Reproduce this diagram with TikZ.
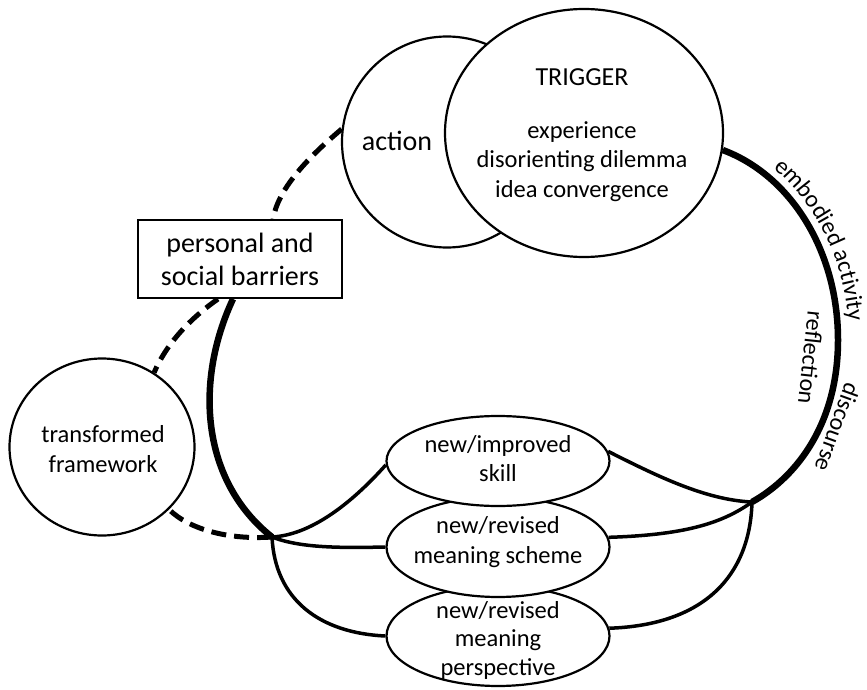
\documentclass[tikz,border=0pt]{standalone}
\usepackage{fontspec}
\setmainfont{Carlito}
\usetikzlibrary{shapes.geometric,decorations.text,backgrounds}
\begin{document}
\begin{tikzpicture}[x=1pt,y=-1pt,
  shapeline/.style={draw=black, line width=2.2pt, fill=white, inner sep=0pt},
  txt/.style={align=center, anchor=base, inner sep=0pt, font=\fontsize{24.5}{30}\selectfont},
  thickline/.style={line width=6.5pt},
  thinline/.style={line width=3.5pt},
  dashline/.style={line width=5pt, dash pattern=on 15pt off 8pt},
]
\fontsize{24}{28}\selectfont
\useasboundingbox (0,0) rectangle (867,690);

% shapes
\node[shapeline, ellipse, minimum width=210pt, minimum height=211pt] (act) at (447,142) {};
\node[shapeline, ellipse, minimum width=278pt, minimum height=248pt] (trig) at (584,133) {};
\node[shapeline, rectangle, line width=2pt, minimum width=204pt, minimum height=78pt] (bar) at (240,259) {};
\node[shapeline, ellipse, minimum width=185pt, minimum height=177pt] (tf) at (102,447) {};
\node[shapeline, ellipse, minimum width=223pt, minimum height=100pt] (persp) at (498,636) {};
\node[shapeline, ellipse, minimum width=223pt, minimum height=100pt] (scheme) at (498,547) {};
\node[shapeline, ellipse, minimum width=223pt, minimum height=90pt] (skill) at (498,461) {};

% texts (anchor=base is the baseline of the last line)
\node[txt, font=\fontsize{28}{30}\selectfont] (acttxt) at (397,150) {action};
\node[txt, font=\fontsize{26}{30}\selectfont] (trigtitle) at (582,86) {TRIGGER};
\node[txt, font=\fontsize{24.5}{29.5}\selectfont] (trigtxt) at (582,197) {experience\\disorienting dilemma\\idea convergence};
\node[txt, font=\fontsize{28}{33}\selectfont] (bartxt) at (240,285) {personal and\\social barriers};
\node[txt] (tftxt) at (103,472) {transformed\\framework};
\node[txt, font=\fontsize{24.5}{29}\selectfont] (skilltxt) at (498,481) {new/improved\\skill};
\node[txt] (schemetxt) at (498,563) {new/revised\\meaning scheme};
\node[txt, font=\fontsize{24.5}{28.5}\selectfont] (persptxt) at (498,675) {new/revised\\meaning\\perspective};

\coordinate (jr) at (752,502);
\coordinate (jl) at (272,537);

\begin{scope}[on background layer]
% main loop on the right
\draw[thickline] (trig.-7) .. controls (790,175) and (838,250) .. (838,340)
   .. controls (838,420) and (800,475) .. (jr);
% right branches
\draw[thinline] (jr) .. controls (705,500) and (655,475) .. (skill.5);
\draw[thinline] (jr) .. controls (720,525) and (680,535) .. (scheme.5);
\draw[thinline] (jr) .. controls (750,575) and (705,625) .. (persp.4);
% left side
\draw[thickline] ([xshift=-7pt]bar.south) .. controls (195,380) and (200,480) .. (jl);
\draw[thinline] (jl) .. controls (300,548) and (340,548) .. (scheme.west);
\draw[thinline] (skill.182) .. controls (350,505) and (310,535) .. (jl);
\draw[thinline] (jl) .. controls (275,600) and (320,633) .. (persp.west);
% dashed
\draw[dashline] (jl) .. controls (230,540) and (190,530) .. (tf.-43);
\draw[dashline] (act.173) .. controls (305,160) and (278,190) .. ([xshift=33pt]bar.north);
\draw[dashline] ([xshift=-22pt]bar.south) .. controls (195,315) and (168,340) .. (tf.55);
\end{scope}

% labels along the loop
\path[decorate, decoration={text along path, text={embodied activity}, text align={left indent=58pt}}]
  (724,139) .. controls (796,165) and (849,246) .. (849,340) -- (849,420);
\node[txt, font=\fontsize{24}{28}\selectfont, rotate=-96] (refl) at (803,357) {reflection};
\node[txt, font=\fontsize{24}{28}\selectfont, rotate=-110] (disc) at (830,425) {discourse};
\end{tikzpicture}
\end{document}
